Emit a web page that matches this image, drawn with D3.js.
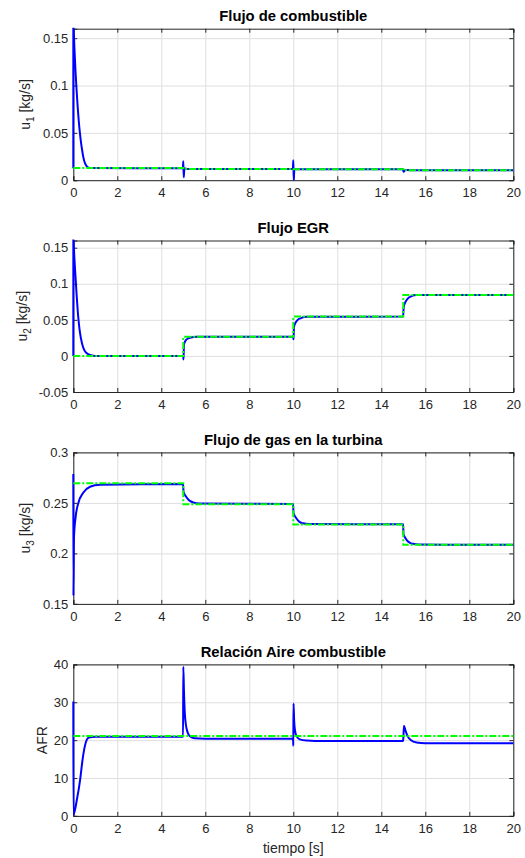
<!DOCTYPE html>
<html>
<head>
<meta charset="utf-8">
<script src="https://cdn.jsdelivr.net/npm/d3@7"></script>
<style>
  body { margin: 0; background: #fff; }
  svg { display: block; font-family: "Liberation Sans", Arial, Helvetica, sans-serif; }
  .tick text { fill: #262626; font-size: 13px; }
  .grid line { stroke: #dfdfdf; stroke-width: 1; }
  .grid path { display: none; }
</style>
</head>
<body>
<svg id="fig"></svg>
<script>
// time axis
const xTicks = [0, 2, 4, 6, 8, 10, 12, 14, 16, 18, 20];
const refTimes = [0, 5, 10, 15, 20];

// panel 1 : u1 fuel flow
const u1Ticks = [0, 0.05, 0.1, 0.15];
const u1TickLabels = ['0', '0.05', '0.1', '0.15'];
const u1Ref = [0.013, 0.0118, 0.0115, 0.0105, 0.0105];
const u1 = [[0,0.0125],[0.002,0.165],[0.05,0.14],[0.1,0.115],[0.15,0.095],[0.2,0.077],[0.25,0.062],
  [0.3,0.05],[0.35,0.04],[0.4,0.032],[0.45,0.025],[0.5,0.02],[0.6,0.015],[0.7,0.0132],[0.85,0.0128],
  [4.98,0.0127],[5.0,0.02],[5.02,0.003],[5.05,0.0125],[5.2,0.0118],[9.98,0.0117],[10.0,0.021],
  [10.02,0.0],[10.05,0.0118],[10.3,0.0115],[14.98,0.0115],[15.01,0.009],[15.1,0.0108],[15.3,0.0105],[20,0.0105]];

// panel 2 : u2 EGR flow
const u2Ticks = [-0.05, 0, 0.05, 0.1, 0.15];
const u2TickLabels = ['-0.05', '0', '0.05', '0.1', '0.15'];
const u2Ref = [0, 0.0265, 0.0545, 0.0845, 0.0845];
const u2 = [[0,0],[0.002,0.165],[0.05,0.135],[0.1,0.11],[0.15,0.085],[0.2,0.063],[0.25,0.046],[0.3,0.033],
  [0.4,0.017],[0.5,0.008],[0.6,0.004],[0.8,0.001],[1.0,0],[4.99,0],[5.01,-0.005],[5.03,0.016],[5.1,0.021],
  [5.2,0.024],[5.35,0.0255],[5.6,0.0265],[9.99,0.0265],[10.01,0.023],[10.03,0.04],[10.1,0.046],[10.2,0.05],
  [10.35,0.0525],[10.6,0.0543],[14.99,0.0545],[15.02,0.068],[15.1,0.075],[15.2,0.0795],[15.35,0.0825],
  [15.6,0.0843],[20,0.0845]];

// panel 3 : u3 turbine gas flow
const u3Ticks = [0.15, 0.2, 0.25, 0.3];
const u3TickLabels = ['0.15', '0.2', '0.25', '0.3'];
const u3Ref = [0.2695, 0.2487, 0.2285, 0.2085, 0.2085];
const u3 = [[0,0.2785],[0.005,0.158],[0.03,0.215],[0.1,0.235],[0.23,0.25],[0.45,0.26],[0.76,0.266],
  [1.2,0.268],[4.99,0.2688],[5.01,0.261],[5.1,0.257],[5.2,0.254],[5.3,0.252],[5.45,0.2505],[5.7,0.2493],
  [9.99,0.249],[10.01,0.24],[10.1,0.236],[10.2,0.233],[10.3,0.231],[10.45,0.2298],[10.7,0.229],
  [14.99,0.2288],[15.01,0.219],[15.1,0.215],[15.2,0.212],[15.3,0.2105],[15.45,0.2095],[15.7,0.2088],[20,0.2085]];

// panel 4 : air fuel ratio
const afrTicks = [0, 10, 20, 30, 40];
const afrTickLabels = ['0', '10', '20', '30', '40'];
const afrRef = [21.1, 21.1, 21.1, 21.1, 21.1];
const afr = [[0,30.2],[0.005,0.3],[0.16,4.2],[0.31,9.5],[0.42,14.8],[0.52,18.3],[0.61,20.05],[0.71,20.7],
  [1.0,20.9],[4.99,20.9],[5.0,39.4],[5.03,33],[5.07,27],[5.12,24],[5.2,22],[5.3,21],[5.5,20.5],[6,20.4],
  [9.99,20.4],[10.0,18.5],[10.01,29.7],[10.04,25],[10.08,22.5],[10.15,21],[10.3,20.2],[10.6,19.9],[11,19.8],
  [14.99,19.8],[15.0,20.3],[15.03,23.8],[15.1,22.5],[15.2,21],[15.35,20],[15.6,19.4],[16,19.2],[20,19.2]];

const W = 525, H = 858;
const svg = d3.select('#fig').attr('width', W).attr('height', H);

class SubPlot {
    constructor(config) {
        this.c = config;
        this.render();
    }

    render() {
        const c = this.c;
        const left = 73.3, right = 513.3, top = c.top, h = 151.5;
        const g = svg.append('g');

        const x = d3.scaleLinear().domain([0, 20]).range([left, right]);
        const y = d3.scaleLinear().domain(c.ydomain).range([top + h, top]);

        // grid
        g.append('g').attr('class', 'grid')
            .attr('transform', `translate(0,${top + h})`)
            .call(d3.axisBottom(x).tickValues(xTicks).tickSize(-h).tickFormat(''));
        g.append('g').attr('class', 'grid')
            .attr('transform', `translate(${left},0)`)
            .call(d3.axisLeft(y).tickValues(c.yticks).tickSize(-(right - left)).tickFormat(''));

        // axes, inward ticks on all sides
        const ax = g.append('g').attr('transform', `translate(0,${top + h})`)
            .call(d3.axisBottom(x).tickValues(xTicks).tickSize(-4).tickPadding(8).tickFormat(d3.format('d')));
        const ax2 = g.append('g').attr('transform', `translate(0,${top})`)
            .call(d3.axisTop(x).tickValues(xTicks).tickSize(-4).tickFormat(''));
        const ay = g.append('g').attr('transform', `translate(${left},0)`)
            .call(d3.axisLeft(y).tickValues(c.yticks).tickSize(-4).tickPadding(5)
                .tickFormat((d, i) => c.ylabels[i]));
        const ay2 = g.append('g').attr('transform', `translate(${right},0)`)
            .call(d3.axisRight(y).tickValues(c.yticks).tickSize(-4).tickFormat(''));
        [ax, ax2, ay, ay2].forEach(a => {
            a.select('.domain').attr('stroke', '#262626');
            a.selectAll('.tick line').attr('stroke', '#262626');
            a.attr('font-family', null).attr('font-size', null);
        });

        // clip (a bit wider than the box so lines on the border keep full width)
        const id = 'clip' + c.index;
        svg.append('clipPath').attr('id', id)
            .append('rect').attr('x', left - 1.5).attr('y', top - 1)
            .attr('width', right - left + 3).attr('height', h + 2);

        const lines = g.append('g').attr('clip-path', `url(#${id})`);
        const line = d3.line().x(d => x(d[0])).y(d => y(d[1])).curve(d3.curveMonotoneX);

        lines.append('path').datum(c.series)
            .attr('d', line)
            .attr('fill', 'none').attr('stroke', '#0000ff').attr('stroke-width', 2)
            .attr('stroke-linejoin', 'round');

        const ref = refTimes.map((t, i) => [t, c.ref[i]]);
        lines.append('path').datum(ref)
            .attr('d', d3.line().x(d => x(d[0])).y(d => y(d[1])).curve(d3.curveStepAfter))
            .attr('fill', 'none').attr('stroke', '#00ff00').attr('stroke-width', 2)
            .attr('stroke-dasharray', '7,2,2,2');

        // title
        g.append('text')
            .attr('x', (left + right) / 2).attr('y', top - 7.7)
            .attr('text-anchor', 'middle')
            .attr('font-weight', 'bold').attr('font-size', 14.8).attr('fill', '#000')
            .text(c.title);

        // y label
        const yl = g.append('text')
            .attr('transform', `translate(${c.ylabelX},${top + h / 2}) rotate(-90)`)
            .attr('text-anchor', 'middle').attr('font-size', 14).attr('fill', '#262626');
        if (c.sub) {
            yl.append('tspan').text('u');
            yl.append('tspan').attr('font-size', 10).attr('dy', 4).text(c.sub);
            yl.append('tspan').attr('dy', -4).text(' [kg/s]');
        } else {
            yl.text(c.ylabel);
        }
    }
}

new SubPlot({index: 1, top: 28.7, ydomain: [0, 0.16], yticks: u1Ticks, ylabels: u1TickLabels,
    series: u1, ref: u1Ref, title: 'Flujo de combustible', sub: '1', ylabelX: 30.4});
new SubPlot({index: 2, top: 240.5, ydomain: [-0.05, 0.16], yticks: u2Ticks, ylabels: u2TickLabels,
    series: u2, ref: u2Ref, title: 'Flujo EGR', sub: '2', ylabelX: 27});
new SubPlot({index: 3, top: 452.4, ydomain: [0.15, 0.3], yticks: u3Ticks, ylabels: u3TickLabels,
    series: u3, ref: u3Ref, title: 'Flujo de gas en la turbina', sub: '3', ylabelX: 30.4});
new SubPlot({index: 4, top: 664.4, ydomain: [0, 40], yticks: afrTicks, ylabels: afrTickLabels,
    series: afr, ref: afrRef, title: 'Relación Aire combustible', ylabel: 'AFR', ylabelX: 46.5});

// x label
svg.append('text')
    .attr('x', 293.3).attr('y', 852.5)
    .attr('text-anchor', 'middle').attr('font-size', 14).attr('fill', '#262626')
    .text('tiempo [s]');
</script>
</body>
</html>
